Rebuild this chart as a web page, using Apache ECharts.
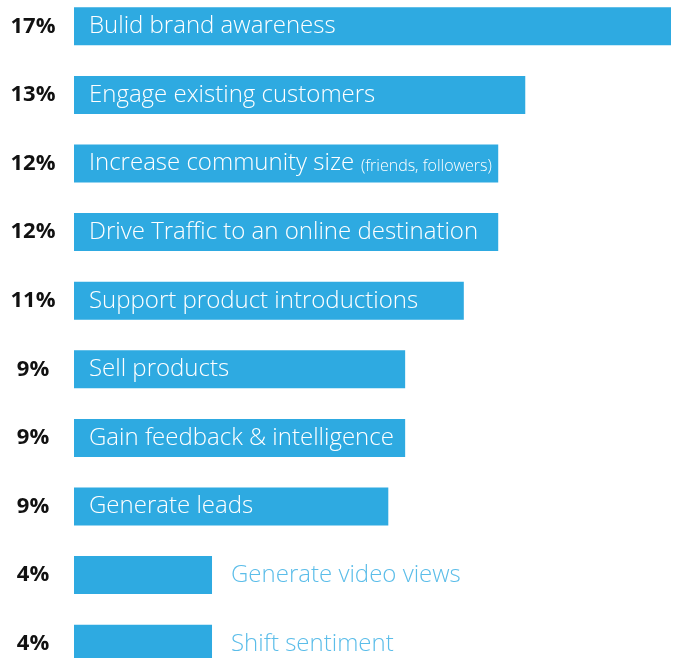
<!DOCTYPE html>
<html>
<head>
<meta charset="utf-8">
<script src="https://cdn.jsdelivr.net/npm/echarts@6/dist/echarts.min.js"></script>
<style>
html,body{margin:0;padding:0;background:#fff;overflow:hidden;width:673px;height:658px;}
#chart{position:absolute;left:0;top:-8px;width:673px;height:686px;}
</style>
</head>
<body>
<div id="chart"></div>
<script>
const categories = [
  'Bulid brand awareness',
  'Engage existing customers',
  'Increase community size',
  'Drive Traffic to an online destination',
  'Support product introductions',
  'Sell products',
  'Gain feedback & intelligence',
  'Generate leads',
  'Generate video views',
  'Shift sentiment'
];
const notes = ['', '', '(friends, followers)', '', '', '', '', '', '', ''];
const values = [17, 12.85, 12.08, 12.08, 11.1, 9.43, 9.43, 8.95, 3.93, 3.93];
const pctLabels = ['17%', '13%', '12%', '12%', '11%', '9%', '9%', '9%', '4%', '4%'];

const FONT = '"Open Sans", "Noto Sans", sans-serif';
const BAR = '#2eaae1';

const chart = echarts.init(document.getElementById('chart'));
const data = values.map((v, i) => {
  const outside = v < 5;
  return {
    value: v,
    label: outside ? {
      position: 'right', distance: 19,
      rich: { a: { color: '#5bbde9', fontSize: 24, fontWeight: 300, fontFamily: FONT }, b: { color: '#5bbde9', fontSize: 16, fontWeight: 300, fontFamily: FONT } }
    } : {}
  };
});

chart.setOption({
  animation: false,
  grid: { left: 74, right: 2, top: 0, bottom: 0, containLabel: false },
  xAxis: {
    type: 'value', min: 0, max: 17, show: false
  },
  yAxis: {
    type: 'category', inverse: true, data: categories,
    axisLine: { show: false }, axisTick: { show: false }, splitLine: { show: false },
    axisLabel: {
      formatter: (val, idx) => pctLabels[idx],
      align: 'center', margin: 41,
      color: '#111', fontSize: 22, fontWeight: 'bold', fontFamily: FONT
    }
  },
  series: [{
    type: 'bar', data: data, barWidth: 38,
    itemStyle: { color: BAR },
    label: {
      show: true, position: 'insideLeft', distance: 15,
      formatter: (p) => notes[p.dataIndex] ? '{a|' + categories[p.dataIndex] + '}  {b|' + notes[p.dataIndex] + '}' : '{a|' + categories[p.dataIndex] + '}',
      rich: {
        a: { color: '#ffffff', fontSize: 24, fontWeight: 300, fontFamily: FONT },
        b: { color: '#ffffff', fontSize: 16, fontWeight: 300, fontFamily: FONT, padding: [5, 0, 0, 0] }
      }
    }
  }]
});
</script>
</body>
</html>
